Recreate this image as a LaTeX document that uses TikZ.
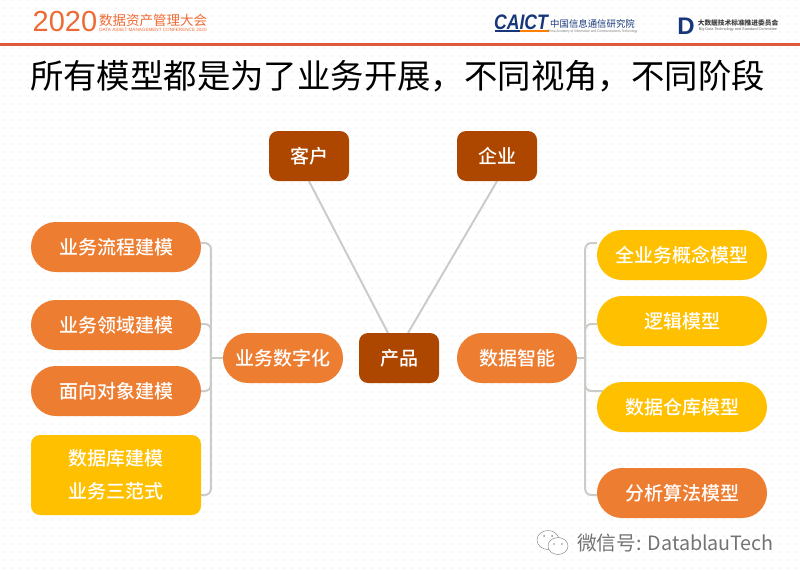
\documentclass[tikz,border=0pt]{standalone}
\usepackage{fontspec}
\setmainfont{Noto Sans CJK SC}
\newfontfamily\latinfont{Liberation Sans}
\newfontfamily\boxfont{Noto Sans CJK SC Medium}
\usetikzlibrary{backgrounds}
\definecolor{orangefill}{HTML}{ED7D31}
\definecolor{yellowfill}{HTML}{FFC000}
\definecolor{brownfill}{HTML}{AD4700}
\definecolor{headred}{HTML}{E0583A}
\definecolor{headorange}{HTML}{EE6A35}
\definecolor{linkgray}{HTML}{CBCBC7}
\definecolor{dotgray}{HTML}{F5F5F3}
\definecolor{navy}{HTML}{17377A}
\tikzset{
  box/.style={text=white,font=\boxfont\fontsize{19}{33}\selectfont,inner sep=0pt,align=center},
  brownbox/.style={box,fill=brownfill,rounded corners=9,minimum width=80,minimum height=50},
  midpill/.style={box,fill=orangefill,rounded corners=24.9,minimum width=120,minimum height=50},
  orangepill/.style={box,fill=orangefill,rounded corners=24.9,minimum width=170,minimum height=50},
  yellowpill/.style={box,fill=yellowfill,rounded corners=24.9,minimum width=170,minimum height=50},
  yellowbox/.style={box,fill=yellowfill,rounded corners=9,minimum width=170,minimum height=80},
  link/.style={draw=linkgray,line width=2pt},
  elbow/.style={link,rounded corners=6},
  plain/.style={inner sep=0pt}
}
\begin{document}
\begin{tikzpicture}[x=1pt,y=-1pt]
  \useasboundingbox (0,0) rectangle (800,578);
  % header
  \draw
    (65,22) node[plain,text=headorange,font=\latinfont\fontsize{29}{29}\selectfont] (year){2020}
    (153,20) node[plain,text=headorange,font=\fontsize{13.5}{14}\selectfont] (confname){数据资产管理大会}
    (153,30) node[plain,text=headorange,font=\latinfont\fontsize{4.6}{5}\selectfont] (confen){DATA ASSET MANAGEMENT CONFERENCE 2020}
    (521,22.5) node[plain,text=navy,transform shape,xscale=0.84,font=\latinfont\fontsize{21}{21}\selectfont\bfseries\itshape] (caict){CAICT}
    (592.5,24) node[plain,text=navy,font=\fontsize{9.4}{10}\selectfont] (caictname){中国信息通信研究院}
    (592.5,31.5) node[plain,text=gray,transform shape,xscale=0.88,font=\latinfont\fontsize{3.6}{4}\selectfont] (caicten){China Academy of Information and Communications Technology}
    (686,26) node[plain,text=navy,font=\latinfont\fontsize{24}{24}\selectfont\bfseries] (dlogo){D}
    (738,23) node[plain,text=black!75,font=\fontsize{6.7}{7}\selectfont\bfseries] (commname){大数据技术标准推进委员会}
    (738,29.5) node[plain,text=black!60,font=\latinfont\fontsize{3.8}{4}\selectfont] (commen){Big Data Technology and Standard Committee};
  % title
  \node[plain,font=\fontsize{33.4}{34}\selectfont] (title) at (397.5,76) {所有模型都是为了业务开展，不同视角，不同阶段};
  % boxes
  \draw
    (309,156) node[brownbox] (customer){客户}
    (497,156) node[brownbox] (company){企业}
    (399,358) node[brownbox] (product){产品}
    (283,358) node[midpill] (digital){业务数字化}
    (517,358) node[midpill] (smart){数据智能}
    (116,247) node[orangepill] (flow){业务流程建模}
    (116,325) node[orangepill] (domain){业务领域建模}
    (116,391) node[orangepill] (object){面向对象建模}
    (116,475) node[yellowbox] (database){数据库建模\\业务三范式}
    (682,255) node[yellowpill] (concept){全业务概念模型}
    (682,321) node[yellowpill] (logic){逻辑模型}
    (682,407) node[yellowpill] (warehouse){数据仓库模型}
    (682,493) node[orangepill] (analysis){分析算法模型};
  % watermark
  \node[plain,text=black!55,font=\fontsize{19.7}{20}\selectfont] (wechat) at (675.5,543) {微信号: DatablauTech};
  \begin{scope}[line width=0.5pt]
    \draw[black!45,fill=white] (548,540) ellipse (11 and 9.5);
    \draw[black!45,fill=white] (558,546) ellipse (10 and 8.5);
    \fill[black!45] (544,536) circle (1) (552,536) circle (1) (554,544) circle (0.8) (562,544) circle (0.8);
  \end{scope}
  \begin{scope}[on background layer]
    \foreach \i in {0,...,99}
      \foreach \j in {0,...,71}
        \fill[dotgray] (3+8*\i,-1+8*\j) rectangle ++(2,2);
    \fill[headred] (0,43) rectangle (800,46);
    \fill[navy] (495,30) rectangle (520,32);
    \fill[orange] (520,30) rectangle (549,32);
    \draw[link] (customer.south) -- (388,333);
    \draw[link] (company.south) -- (408,333);
    \draw[link] (digital.west) -- ++(-12,0);
    \draw[elbow] (digital.west) ++(-12,0) |- ([yshift=4]flow.east);
    \draw[elbow] (digital.west) ++(-12,0) |- ([yshift=1]domain.east);
    \draw[elbow] (digital.west) ++(-12,0) |- (object.east);
    \draw[elbow] (digital.west) ++(-12,0) |- ([yshift=-20]database.east);
    \draw[link] (smart.east) -- ++(8,0);
    \draw[elbow] (smart.east) ++(8,0) |- ([yshift=12]concept.west);
    \draw[elbow] (smart.east) ++(8,0) |- ([yshift=-3]logic.west);
    \draw[elbow] (smart.east) ++(8,0) |- ([xshift=6,yshift=16]warehouse.west);
    \draw[elbow] (smart.east) ++(8,0) |- ([yshift=-2]analysis.west);
  \end{scope}
\end{tikzpicture}
\end{document}
